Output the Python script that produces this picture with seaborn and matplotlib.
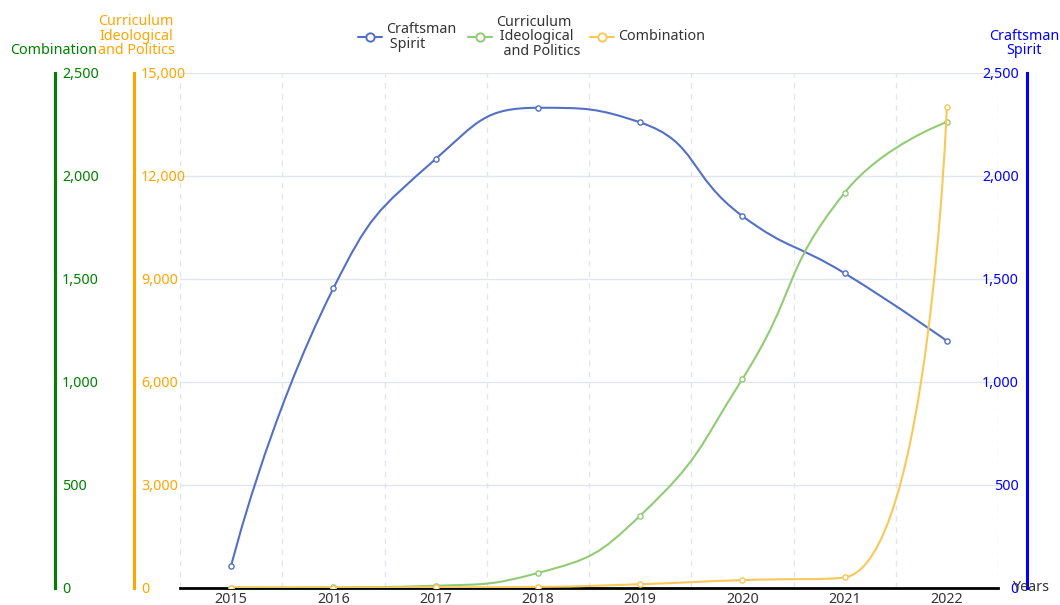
import numpy as np
import matplotlib
matplotlib.use('Agg')
import matplotlib.pyplot as plt
from matplotlib.path import Path
from matplotlib.patches import PathPatch
from matplotlib.lines import Line2D
from matplotlib.ticker import FuncFormatter, MultipleLocator
import seaborn as sns

# data
years = ['2015', '2016', '2017', '2018', '2019', '2020', '2021', '2022']
craftsman = [105, 1454, 2082, 2331, 2260, 1805, 1527, 1198]            # right axis, 0-2500
curriculum = [0, 5, 52, 423, 2093, 6079, 11510, 13571]                 # orange axis, 0-15000
combination = [0, 0, 1, 3, 16, 36, 49, 2335]                           # green axis, 0-2500

c_blue, c_green, c_orange = '#5470c6', '#91cc75', '#fac858'

sns.set_style('white')
plt.rcParams['font.family'] = ['Noto Sans', 'DejaVu Sans']
plt.rcParams['font.size'] = 10


def smooth_path(ax, xs, ys, smooth=0.5):
    # echarts style smoothing (computed in pixel space), returned in data coords
    pts = ax.transData.transform(np.column_stack([xs, ys]))
    n = len(pts)
    verts = [pts[0]]
    codes = [Path.MOVETO]
    cp0 = pts[0].copy()
    for i in range(1, n):
        px, py = pts[i - 1]
        x, y = pts[i]
        if i == n - 1:
            cp1 = np.array([x, y])
            nxt_cp0 = None
        else:
            nx, ny = pts[i + 1]
            vx, vy = nx - px, ny - py
            len_prev = np.hypot(x - px, y - py)
            len_next = np.hypot(nx - x, ny - y)
            r = len_next / (len_next + len_prev)
            ncx = x + vx * smooth * r
            ncy = y + vy * smooth * r
            ncx = max(min(ncx, max(nx, x)), min(nx, x))
            ncy = max(min(ncy, max(ny, y)), min(ny, y))
            vx, vy = ncx - x, ncy - y
            c1x = x - vx * len_prev / len_next
            c1y = y - vy * len_prev / len_next
            c1x = max(min(c1x, max(px, x)), min(px, x))
            c1y = max(min(c1y, max(py, y)), min(py, y))
            vx, vy = x - c1x, y - c1y
            nxt_cp0 = np.array([x + vx * len_next / len_prev, y + vy * len_next / len_prev])
            cp1 = np.array([c1x, c1y])
        verts += [cp0, cp1, np.array([x, y])]
        codes += [Path.CURVE4] * 3
        cp0 = nxt_cp0
    verts = ax.transData.inverted().transform(np.array(verts))
    return Path(verts, codes)


W, H = 1060, 605
fig = plt.figure(figsize=(W / 100, H / 100), dpi=100)
left, right, top, bottom = 180, 998, 73, 587.5
ax = fig.add_axes([left / W, (H - bottom) / H, (right - left) / W, (bottom - top) / H])
ax_cur = ax.twinx()
ax_com = ax.twinx()

xs = np.arange(len(years))
ax.set_xlim(-0.5, len(years) - 0.5)
ax.set_ylim(0, 2500)
ax_cur.set_ylim(0, 15000)
ax_com.set_ylim(0, 2500)

# grid + x axis on base axes
ax.yaxis.set_major_locator(MultipleLocator(500))
ax.set_xticks(xs)
ax.set_xticklabels(years)
ax.set_xticks(np.arange(-0.5, len(years)), minor=True)
ax.tick_params(axis='x', which='major', length=0, labelsize=10.3, labelcolor='#333333', pad=3)
ax.tick_params(axis='x', which='minor', length=5, width=1, color='#333333', direction='out')
ax.grid(which='major', axis='y', color='#E0E6F1', lw=1)
ax.grid(which='minor', axis='x', color='#E0E6F1', lw=1, linestyle=(0, (4, 4)))
ax.grid(which='major', axis='x', visible=False)
for s in ['top', 'right']:
    ax.spines[s].set_visible(False)
ax.spines['bottom'].set_color('black')
ax.spines['bottom'].set_linewidth(2)
ax.spines['left'].set_position(('axes', (1027 - left) / (right - left)))
ax.spines['left'].set_color('blue')
ax.spines['left'].set_linewidth(2.2)
ax.yaxis.set_ticks_position('left')
ax.tick_params(axis='y', length=0, labelsize=10.3, labelcolor='blue', pad=6)

fmt = FuncFormatter(lambda v, p: f'{int(v):,}')
ax.yaxis.set_major_formatter(fmt)

for a, pos, col, step in [(ax_cur, 134, 'orange', 3000), (ax_com, 55, 'green', 500)]:
    for s in ['top', 'bottom', 'left']:
        a.spines[s].set_visible(False)
    a.spines['right'].set_position(('axes', (pos - left) / (right - left)))
    a.spines['right'].set_color(col)
    a.spines['right'].set_linewidth(2.2)
    a.yaxis.set_major_locator(MultipleLocator(step))
    a.yaxis.set_major_formatter(fmt)
    a.tick_params(axis='y', length=0, labelsize=10.3, labelcolor=col, pad=5)
    a.grid(False)

# series
for a, vals, col in [(ax, craftsman, c_blue), (ax_cur, curriculum, c_green), (ax_com, combination, c_orange)]:
    a.add_patch(PathPatch(smooth_path(a, xs, vals), facecolor='none', edgecolor=col, lw=1.5, zorder=2))
    sns.scatterplot(x=xs, y=vals, ax=a, color='white', edgecolor=col, s=14, linewidth=1, zorder=3, legend=False)
    a.set_xlabel('')
    a.set_ylabel('')

ax.text((1012 - left) / (right - left), 0, 'Years', transform=ax.transAxes,
        ha='left', va='center', fontsize=10.3, color='#333333')

# axis names
def fpos(x, y):
    return x / W, 1 - y / H

fig.text(*fpos(54, 58), 'Combination', color='green', ha='center', va='bottom', fontsize=10.3)
fig.text(*fpos(136, 58), 'Curriculum\nIdeological\nand Politics', color='orange', ha='center',
         va='bottom', fontsize=10.3, multialignment='center', linespacing=0.95)
fig.text(*fpos(1024, 58), 'Craftsman\nSpirit', color='blue', ha='center', va='bottom',
         fontsize=10.3, multialignment='center', linespacing=0.95)

# legend
legend_items = [(358, c_blue, 'Craftsman\n Spirit'),
                (468, c_green, 'Curriculum\n Ideological\n  and Politics'),
                (590, c_orange, 'Combination')]
for x0, col, lab in legend_items:
    fig.add_artist(Line2D([x0 / W, (x0 + 24) / W], [1 - 37 / H] * 2, color=col, lw=1.5,
                          transform=fig.transFigure))
    fig.add_artist(Line2D([(x0 + 12) / W], [1 - 37 / H], marker='o', markersize=6,
                          markerfacecolor='white', markeredgecolor=col, markeredgewidth=1.4,
                          transform=fig.transFigure))
    fig.text(*fpos(x0 + 28, 37), lab, color='#333333', ha='left', va='center',
             fontsize=10.3, linespacing=0.95)

plt.savefig('out.png', dpi=100)
